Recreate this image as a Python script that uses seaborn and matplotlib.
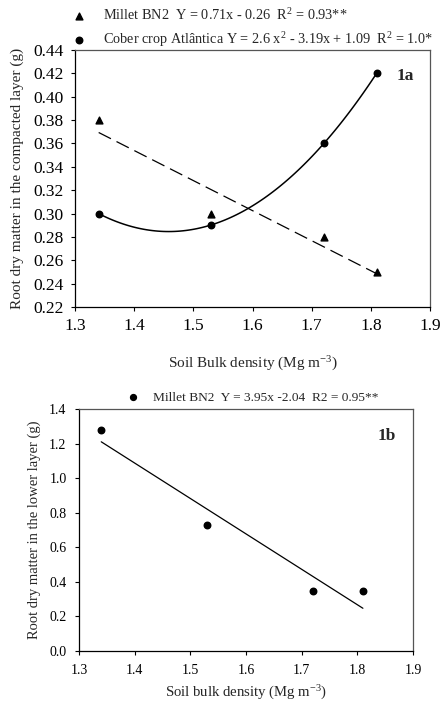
import numpy as np
import pandas as pd
import matplotlib
matplotlib.use('Agg')
import matplotlib.pyplot as plt
import seaborn as sns

# data
bulk_density = [1.34, 1.53, 1.72, 1.81]
millet_compacted = [0.38, 0.30, 0.28, 0.25]
cober_compacted = [0.30, 0.29, 0.36, 0.42]
millet_lower = [1.28, 0.73, 0.35, 0.35]

x_ticks = [1.3, 1.4, 1.5, 1.6, 1.7, 1.8, 1.9]
y_ticks_a = [0.22, 0.24, 0.26, 0.28, 0.30, 0.32, 0.34, 0.36, 0.38, 0.40, 0.42, 0.44]
y_ticks_b = [0.0, 0.2, 0.4, 0.6, 0.8, 1.0, 1.2, 1.4]

label_millet_a = r'Millet BN2  Y = 0.71x - 0.26  R$^2$ = 0.93**'
label_cober_a = r'Cober crop Atlântica Y = 2.6 x$^2$ - 3.19x + 1.09  R$^2$ = 1.0*'
label_millet_b = 'Millet BN2  Y = 3.95x -2.04  R2 = 0.95**'

df = pd.DataFrame({'bd': bulk_density, 'millet_c': millet_compacted,
                   'cober_c': cober_compacted, 'millet_l': millet_lower})

sns.set_style('ticks')
plt.rcParams['font.family'] = ['Liberation Serif', 'DejaVu Serif']
plt.rcParams['mathtext.fontset'] = 'custom'
plt.rcParams['mathtext.rm'] = 'Liberation Serif'
plt.rcParams['mathtext.it'] = 'Liberation Serif:italic'

fig = plt.figure(figsize=(4.41, 7.04), dpi=100)
ax1 = fig.add_axes([75/441, 1 - 307/704, 355/441, 257/704])
ax2 = fig.add_axes([79/441, 1 - 651/704, 334/441, 242/704])

# 1a - compacted layer
sns.regplot(data=df, x='bd', y='millet_c', ax=ax1, ci=None, marker='^',
            color='black', label=label_millet_a,
            scatter_kws={'s': 24, 'alpha': 1},
            line_kws={'lw': 0.9, 'dashes': (11, 5)})
sns.regplot(data=df, x='bd', y='cober_c', ax=ax1, ci=None, order=2, marker='o',
            color='black', label=label_cober_a,
            scatter_kws={'s': 22, 'alpha': 1},
            line_kws={'lw': 1.1})

ax1.set_xlim(1.3, 1.9)
ax1.set_ylim(0.22, 0.44)
ax1.set_xticks(x_ticks)
ax1.set_yticks(y_ticks_a)
ax1.set_yticklabels([f'{v:.2f}' for v in y_ticks_a])
ax1.tick_params(axis='both', labelsize=12.5, pad=5)
ax1.set_xlabel('Soil Bulk density (Mg m$^{-3}$)', fontsize=11, labelpad=15)
ax1.set_ylabel('Root dry matter in the compacted layer (g)', fontsize=11, labelpad=7)
ax1.text(0.93, 0.9, '1a', transform=ax1.transAxes, fontsize=12.5, fontweight='bold',
         ha='center', va='center')
ax1.legend(loc='lower left', bbox_to_anchor=(-0.033, 1.0), frameon=False,
           fontsize=10.3, handletextpad=0.7, labelspacing=0.5, borderaxespad=-0.3,
           markerscale=1.0)

# 1b - lower layer
sns.regplot(data=df, x='bd', y='millet_l', ax=ax2, ci=None, marker='o',
            color='black', label=label_millet_b,
            scatter_kws={'s': 22, 'alpha': 1},
            line_kws={'lw': 0.9})

ax2.set_xlim(1.3, 1.9)
ax2.set_ylim(0.0, 1.4)
ax2.set_xticks(x_ticks)
ax2.set_yticks(y_ticks_b)
ax2.set_yticklabels([f'{v:.1f}' for v in y_ticks_b])
ax2.tick_params(axis='both', labelsize=10, pad=6)
ax2.set_xlabel('Soil bulk density (Mg m$^{-3}$)', fontsize=10.6, labelpad=5)
ax2.set_ylabel('Root dry matter in the lower layer (g)', fontsize=10.5, labelpad=6)
ax2.text(0.92, 0.89, '1b', transform=ax2.transAxes, fontsize=12.5, fontweight='bold',
         ha='center', va='center')
ax2.legend(loc='lower left', bbox_to_anchor=(0.106, 1.0), frameon=False,
           fontsize=9.6, handletextpad=0.5, borderaxespad=0.0, markerscale=0.9)

for ax in (ax1, ax2):
    ax.tick_params(axis='both', direction='out', length=3, width=0.8, colors='black')
    for side in ('left', 'bottom'):
        ax.spines[side].set_color('black')
        ax.spines[side].set_linewidth(0.9)
    for side in ('top', 'right'):
        ax.spines[side].set_visible(True)
        ax.spines[side].set_color('#555555')
        ax.spines[side].set_linewidth(0.9)

fig.savefig('out.png', dpi=100)
